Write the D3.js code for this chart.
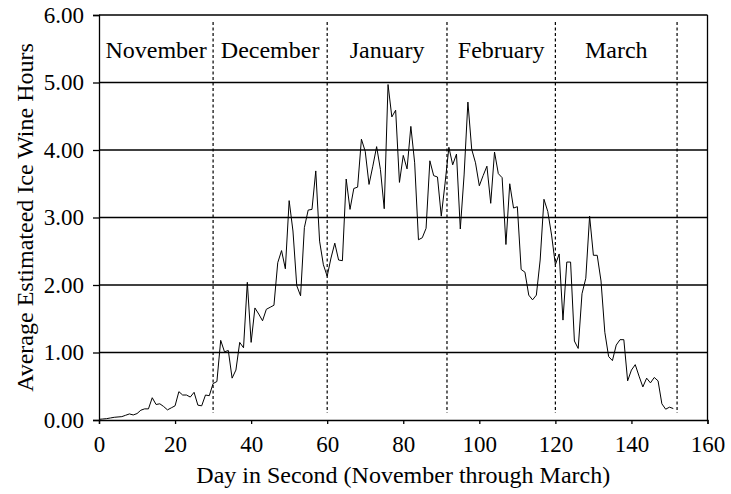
<!DOCTYPE html>
<html>
<head>
<meta charset="utf-8">
<script src="https://cdn.jsdelivr.net/npm/d3@7"></script>
<style>
  html, body { margin: 0; padding: 0; background: #fff; }
  svg { display: block; }
  text { font-family: "Liberation Serif", "Times New Roman", serif; fill: #000; }
</style>
</head>
<body>
<svg id="chart" width="731" height="494"></svg>
<script>
// Average estimated ice wine hours, one value per day from 1 November
const firstDay = 0;
const hours = [
  0.01, 0.015, 0.02, 0.03, 0.04, 0.045, 0.05, 0.07, 0.09, 0.075,
  0.095, 0.145, 0.165, 0.165, 0.33, 0.23, 0.24, 0.20, 0.15, 0.18,
  0.21, 0.42, 0.37, 0.37, 0.34, 0.41, 0.22, 0.21, 0.37, 0.36,
  0.54, 0.57, 1.18, 1.01, 1.03, 0.62, 0.74, 1.15, 1.07, 2.04,
  1.15, 1.66, 1.57, 1.47, 1.64, 1.67, 1.70, 2.33, 2.51, 2.24,
  3.25, 2.80, 1.99, 1.84, 2.85, 3.11, 3.12, 3.69, 2.65, 2.30,
  2.13, 2.40, 2.62, 2.37, 2.36, 3.57, 3.12, 3.43, 3.45, 4.16,
  3.98, 3.49, 3.76, 4.05, 3.71, 3.13, 4.97, 4.49, 4.59, 3.52,
  3.92, 3.72, 4.35, 3.81, 2.67, 2.70, 2.84, 3.84, 3.62, 3.60,
  3.02, 3.51, 4.04, 3.78, 3.94, 2.83, 3.63, 4.71, 4.01, 3.81,
  3.47, 3.62, 3.76, 3.21, 3.97, 3.65, 3.59, 2.60, 3.50, 3.14,
  3.16, 2.23, 2.19, 1.85, 1.78, 1.85, 2.37, 3.27, 3.09, 2.74,
  2.30, 2.46, 1.48, 2.34, 2.34, 1.17, 1.06, 1.87, 2.10, 3.02,
  2.44, 2.44, 2.06, 1.30, 0.94, 0.88, 1.11, 1.19, 1.19, 0.58,
  0.74, 0.82, 0.65, 0.49, 0.62, 0.55, 0.63, 0.58, 0.24, 0.16,
  0.19, 0.17
];

// Month names and the day numbers where each month starts / ends
const months = ["November", "December", "January", "February", "March"];
const monthBounds = [0, 30, 60, 91.5, 120, 152];

// Axis ticks
const xTicks = [0, 20, 40, 60, 80, 100, 120, 140, 160];
const yTicks = [0, 1, 2, 3, 4, 5, 6];

const xTitle = "Day in Second (November through March)";
const yTitle = "Average Estimateed Ice Wine Hours";

const svg = d3.select("#chart");
const plotLeft = 99, plotRight = 707.5, plotTop = 15, plotBottom = 420;

const x = d3.scaleLinear().domain([0, 160]).range([plotLeft, plotRight]);
const y = d3.scaleLinear().domain([0, 6]).range([plotBottom, plotTop]);

// Horizontal grid lines
svg.append("g")
  .selectAll("line")
  .data(yTicks.filter(v => v > 0))
  .join("line")
  .attr("x1", plotLeft).attr("x2", plotRight)
  .attr("y1", d => y(d)).attr("y2", d => y(d))
  .attr("stroke", "#000").attr("stroke-width", 1.3);

// Right frame edge
svg.append("line")
  .attr("x1", plotRight).attr("x2", plotRight)
  .attr("y1", plotTop).attr("y2", plotBottom)
  .attr("stroke", "#000").attr("stroke-width", 1.3);

// Month separators
svg.append("g")
  .selectAll("line")
  .data(monthBounds.slice(1))
  .join("line")
  .attr("x1", d => x(d)).attr("x2", d => x(d))
  .attr("y1", 22).attr("y2", 413)
  .attr("stroke", "#000").attr("stroke-width", 1.2)
  .attr("stroke-dasharray", "3,2.5");

// Month names centred in their spans
svg.append("g")
  .selectAll("text")
  .data(months)
  .join("text")
  .attr("x", (d, i) => (x(monthBounds[i]) + x(monthBounds[i + 1])) / 2)
  .attr("y", 58)
  .attr("text-anchor", "middle")
  .attr("font-size", 24)
  .text(d => d);

// Data line
const line = d3.line()
  .x((d, i) => x(firstDay + i))
  .y(d => y(d));

svg.append("path")
  .datum(hours)
  .attr("d", line)
  .attr("fill", "none")
  .attr("stroke", "#000")
  .attr("stroke-width", 1)
  .attr("stroke-linejoin", "miter");

// Axes
const xAxis = svg.append("g")
  .attr("transform", `translate(0,${plotBottom})`)
  .call(d3.axisBottom(x).tickValues(xTicks).tickSize(4).tickPadding(12).tickFormat(d3.format("d")));

const yAxis = svg.append("g")
  .attr("transform", `translate(${plotLeft},0)`)
  .call(d3.axisLeft(y).tickValues(yTicks).tickSize(6).tickPadding(9).tickFormat(d3.format(".2f")));

[xAxis, yAxis].forEach(g => {
  g.select(".domain").attr("stroke", "#000").attr("stroke-width", 1.3);
  g.selectAll(".tick line").attr("stroke", "#000").attr("stroke-width", 1.3);
  g.selectAll(".tick text")
    .attr("font-family", "Liberation Serif, Times New Roman, serif")
    .attr("font-size", 23)
    .attr("fill", "#000");
});

// Axis titles
svg.append("text")
  .attr("x", (plotLeft + plotRight) / 2)
  .attr("y", 483)
  .attr("text-anchor", "middle")
  .attr("font-size", 24)
  .text(xTitle);

svg.append("text")
  .attr("transform", "rotate(-90)")
  .attr("x", -(plotTop + plotBottom) / 2)
  .attr("y", 33)
  .attr("text-anchor", "middle")
  .attr("font-size", 24)
  .text(yTitle);
</script>
</body>
</html>
